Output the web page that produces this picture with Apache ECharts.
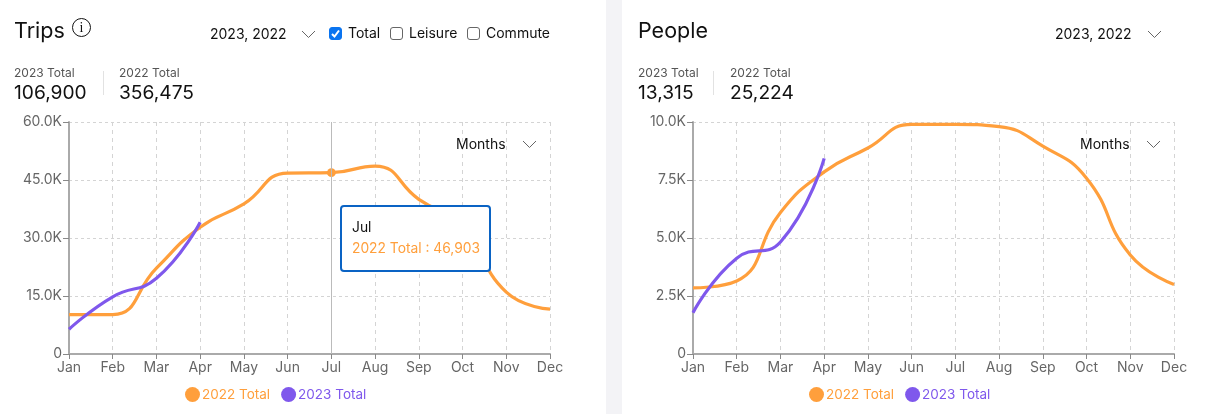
<!DOCTYPE html>
<html>
<head>
<meta charset="utf-8">
<script src="https://cdn.jsdelivr.net/npm/echarts@6/dist/echarts.min.js"></script>
<style>
html, body { margin: 0; padding: 0; width: 1227px; height: 414px; overflow: hidden; background: #fff; font-family: Inter, "Noto Sans", sans-serif; color: #111; }
.gap { position: absolute; left: 606px; top: 0; width: 16px; height: 414px; background: #f3f3f6; }
.chart { position: absolute; top: 0; width: 606px; height: 414px; }
.txt { position: absolute; white-space: nowrap; }
.title { font-size: 21.5px; line-height: 24px; top: 18px; }
.ctl { font-size: 14px; line-height: 18px; }
.sm { font-size: 12px; line-height: 14px; color: #555; top: 65.5px; }
.big { font-size: 19.2px; line-height: 24px; top: 80px; }
.sep { position: absolute; top: 71px; width: 1px; height: 24px; background: #e2e2e2; }
.chev { position: absolute; width: 15px; height: 8px; }
.box { position: absolute; top: 27px; width: 13px; height: 13px; border: 1px solid #666; border-radius: 3px; background: #fff; box-sizing: border-box; }
.box.on { background: #0a74f0; border-color: #0a74f0; }
.box svg { position: absolute; left: 0; top: 0; }
.info { position: absolute; left: 72px; top: 18px; width: 19px; height: 19px; border: 1px solid #111; border-radius: 50%; box-sizing: border-box; font-size: 14px; line-height: 17px; text-align: center; font-family: "Liberation Serif", serif; }
</style>
</head>
<body>
<div class="chart" id="trips" style="left:0"></div>
<div class="chart" id="people" style="left:621px"></div>
<div class="gap"></div>

<div class="txt title" style="left:14px">Trips</div>
<div class="info">i</div>
<div class="txt ctl" style="left:210px;top:25px">2023, 2022</div>
<svg class="chev" style="left:301px;top:30px" viewBox="0 0 15 8"><path d="M1 1l6.5 6.5L14 1" fill="none" stroke="#666"/></svg>
<div class="box on" style="left:329px"><svg width="11" height="11" viewBox="0 0 11 11"><path d="M2 6l2.5 2.5L9 2.5" fill="none" stroke="#fff" stroke-width="2"/></svg></div>
<div class="txt ctl" style="left:348px;top:24px">Total</div>
<div class="box" style="left:390px"></div>
<div class="txt ctl" style="left:409px;top:24px">Leisure</div>
<div class="box" style="left:467px"></div>
<div class="txt ctl" style="left:486px;top:24px">Commute</div>
<div class="txt sm" style="left:14px">2023 Total</div>
<div class="txt big" style="left:14px">106,900</div>
<div class="sep" style="left:103px"></div>
<div class="txt sm" style="left:119px">2022 Total</div>
<div class="txt big" style="left:119px">356,475</div>
<div class="txt ctl" style="left:456px;top:135px;z-index:5">Months</div>
<svg class="chev" style="left:522px;top:140px;z-index:5" viewBox="0 0 15 8"><path d="M1 1l6.5 6.5L14 1" fill="none" stroke="#666"/></svg>

<div class="txt title" style="left:638px">People</div>
<div class="txt ctl" style="left:1055px;top:25px">2023, 2022</div>
<svg class="chev" style="left:1147px;top:30px" viewBox="0 0 15 8"><path d="M1 1l6.5 6.5L14 1" fill="none" stroke="#666"/></svg>
<div class="txt sm" style="left:638px">2023 Total</div>
<div class="txt big" style="left:638px">13,315</div>
<div class="sep" style="left:713px"></div>
<div class="txt sm" style="left:730px">2022 Total</div>
<div class="txt big" style="left:730px">25,224</div>
<div class="txt ctl" style="left:1080px;top:135px;z-index:5">Months</div>
<svg class="chev" style="left:1146px;top:140px;z-index:5" viewBox="0 0 15 8"><path d="M1 1l6.5 6.5L14 1" fill="none" stroke="#666"/></svg>

<script type="text/javascript">
var months = ['Jan', 'Feb', 'Mar', 'Apr', 'May', 'Jun', 'Jul', 'Aug', 'Sep', 'Oct', 'Nov', 'Dec'];

var trips2022 = [10200, 10200, 22200, 32800, 38800, 46800, 46903, 48600, 40000, 33000, 16000, 11600];
var trips2023 = [6400, 14800, 19600, 34100];
var tripsTicks = ['0', '15.0K', '30.0K', '45.0K', '60.0K'];

var people2022 = [2850, 3150, 6100, 7850, 8880, 9900, 9900, 9800, 8960, 7580, 4270, 3000];
var people2023 = [1780, 4130, 4830, 8430];
var peopleTicks = ['0', '2.5K', '5.0K', '7.5K', '10.0K'];

var orange = '#ff9f3c';
var purple = '#7f58ec';

function buildOption(left, y2022, y2023, ticks, max) {
    var step = max / (ticks.length - 1);
    function line(name, data, color) {
        return {
            name: name,
            type: 'line',
            data: data,
            smooth: 0.5,
            showSymbol: false,
            symbol: 'circle',
            symbolSize: 8,
            lineStyle: { color: color, width: 3.2 },
            itemStyle: { color: color },
            emphasis: { disabled: true }
        };
    }
    return {
        animation: false,
        textStyle: { fontFamily: 'Inter' },
        grid: { left: left, right: 56, top: 122, height: 232, containLabel: false },
        legend: {
            data: ['2022 Total', '2023 Total'],
            top: 382,
            left: left + 111,
            icon: 'circle',
            itemWidth: 15,
            itemHeight: 15,
            itemGap: 11,
            selectedMode: false,
            textStyle: { fontSize: 13.5, fontFamily: 'Inter', color: 'inherit', padding: [0, 0, 0, -3] }
        },
        tooltip: {
            show: true,
            trigger: 'axis',
            alwaysShowContent: true,
            transitionDuration: 0,
            backgroundColor: '#fff',
            borderColor: '#0a63c4',
            borderWidth: 2,
            padding: [0, 0],
            extraCssText: 'border-radius:4px;box-shadow:none;box-sizing:border-box;width:151px;height:67px;',
            position: [340, 205],
            axisPointer: { type: 'line', lineStyle: { color: '#bbb', width: 1, type: 'solid' } },
            formatter: function (params) {
                var p = params[0];
                return '<div style="font:13.8px/20px Inter;padding:10px 0 0 10px;color:#111">' + p.name + '</div>' +
                    '<div style="font:13.8px/20px Inter;padding:1px 0 0 10px;color:' + orange + '">' + p.seriesName + ' : ' + p.value.toLocaleString('en-US') + '</div>';
            }
        },
        xAxis: {
            type: 'category',
            data: months,
            boundaryGap: false,
            axisLine: { lineStyle: { color: '#aaa', width: 2 } },
            axisTick: { show: true, length: 5, lineStyle: { color: '#888' } },
            axisLabel: { color: '#666', fontSize: 14, margin: 7, interval: 0, showMinLabel: true, showMaxLabel: true },
            splitLine: { show: true, lineStyle: { color: '#d4d4d4', type: [4, 4] } }
        },
        yAxis: {
            type: 'value',
            min: 0,
            max: max,
            interval: step,
            axisLine: { show: true, lineStyle: { color: '#aaa', width: 2 } },
            axisTick: { show: true, length: 6, lineStyle: { color: '#888' } },
            axisLabel: {
                color: '#666', fontSize: 14, margin: 7, padding: [2, 0, 0, 0],
                formatter: function (v) { return ticks[Math.round(v / step)]; }
            },
            splitLine: { show: true, lineStyle: { color: '#d4d4d4', type: [3, 3] } }
        },
        series: [line('2022 Total', y2022, orange), line('2023 Total', y2023, purple)]
    };
}

var tripsChart = echarts.init(document.getElementById('trips'));
tripsChart.setOption(buildOption(69, trips2022, trips2023, tripsTicks, 60000));
tripsChart.dispatchAction({ type: 'showTip', seriesIndex: 0, dataIndex: 6 });

var peopleChart = echarts.init(document.getElementById('people'));
var peopleOption = buildOption(72, people2022, people2023, peopleTicks, 10000);
peopleOption.tooltip = { show: false };
peopleOption.grid.right = 53;
peopleChart.setOption(peopleOption);
</script>
</body>
</html>
